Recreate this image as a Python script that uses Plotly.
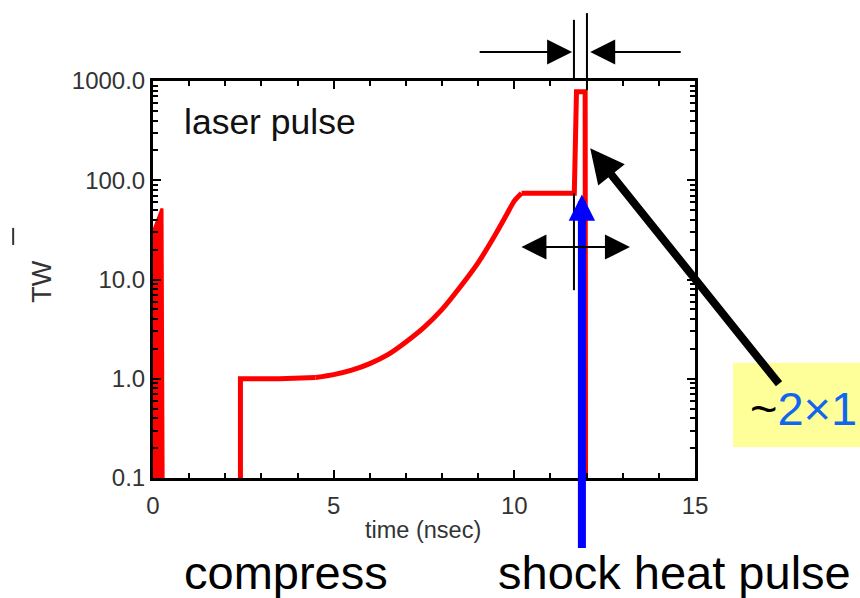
import math
import plotly.graph_objects as go

# ---- data ----
spike_t = [0.0, 0.0, 0.25, 0.28]
spike_p = [0.1, 30, 52, 0.1]

step_t = [2.42, 2.42, 3.5, 4.5]
step_p = [0.1, 1.0, 1.0, 1.03]

ramp_t = [4.5, 5.0, 5.5, 6.0, 6.5, 7.0, 7.5, 8.0, 8.5, 9.0, 9.5, 9.8, 10.0, 10.2]
ramp_p = [1.03, 1.1, 1.22, 1.42, 1.75, 2.35, 3.3, 5.0, 8.4, 14.8, 29.4, 46, 62, 74]

peak_t = [10.2, 11.66, 11.72, 11.96, 11.97]
peak_p = [74, 74, 780, 780, 0.1]

x_ticks = [0, 5, 10, 15]
y_ticks = [0.1, 1, 10, 100, 1000]
y_ticktext = ["0.1", "1.0", "10.0", "100.0", "1000.0"]
y_minor = [m * 10 ** e for e in range(-1, 3) for m in range(2, 10)]

FONT = "Arial, Liberation Sans, sans-serif"
RED = "#FF0000"
L = math.log10

fig = go.Figure()
fig.add_trace(go.Scatter(x=spike_t, y=spike_p, mode="lines", fill="toself",
                         fillcolor=RED, line=dict(color=RED, width=3),
                         hoverinfo="skip", showlegend=False))
fig.add_trace(go.Scatter(x=step_t, y=step_p, mode="lines",
                         line=dict(color=RED, width=5), hoverinfo="skip", showlegend=False))
fig.add_trace(go.Scatter(x=ramp_t, y=ramp_p, mode="lines",
                         line=dict(color=RED, width=5, shape="spline", smoothing=0.7),
                         hoverinfo="skip", showlegend=False))
fig.add_trace(go.Scatter(x=peak_t, y=peak_p, mode="lines",
                         line=dict(color=RED, width=5), hoverinfo="skip", showlegend=False))

fig.update_layout(
    width=860, height=598,
    margin=dict(l=153, r=165, t=81, b=120),
    paper_bgcolor="white", plot_bgcolor="white",
    font=dict(family=FONT, color="#333333"),
    showlegend=False,
)
fig.update_xaxes(
    range=[0, 15], tickvals=x_ticks, ticks="inside", ticklen=8, tickwidth=2,
    tickcolor="black", showline=True, linecolor="black", linewidth=3,
    mirror="allticks", showgrid=False, zeroline=False,
    tickfont=dict(size=24, color="#333333"), ticklabelstandoff=4,
    minor=dict(dtick=1, ticks="inside", ticklen=5, tickwidth=2, tickcolor="black", showgrid=False),
)
fig.update_yaxes(
    type="log", range=[-1, 3], tickvals=y_ticks, ticktext=y_ticktext,
    ticks="inside", ticklen=8, tickwidth=2, tickcolor="black",
    showline=True, linecolor="black", linewidth=3, mirror="allticks",
    showgrid=False, zeroline=False, tickfont=dict(size=24, color="#333333"),
    minor=dict(tickvals=y_minor, ticks="inside", ticklen=5, tickwidth=2, tickcolor="black", showgrid=False),
)

ann = []
# texts
ann.append(dict(text="laser pulse", xref="paper", yref="paper", x=0.053, y=0.897,
                xanchor="left", yanchor="middle", showarrow=False,
                font=dict(size=35.5, color="#111111", family=FONT)))
ann.append(dict(text="time (nsec)", xref="paper", yref="paper", x=0.498, y=-0.131,
                xanchor="center", yanchor="middle", showarrow=False,
                font=dict(size=23.5, color="#333333", family=FONT)))
ann.append(dict(text="TW", xref="paper", yref="paper", x=-0.205, y=0.494,
                xanchor="center", yanchor="middle", showarrow=False, textangle=-90,
                font=dict(size=27, color="#333333", family=FONT)))
ann.append(dict(text="compress", xref="paper", yref="paper", x=0.245, y=-0.237,
                xanchor="center", yanchor="middle", showarrow=False,
                font=dict(size=47, color="black", family=FONT)))
ann.append(dict(text="shock heat pulse", xref="paper", yref="paper", x=0.963, y=-0.237,
                xanchor="center", yanchor="middle", showarrow=False,
                font=dict(size=47, color="black", family=FONT)))
ann.append(dict(text="~<span style='color:#1166EE'>2×1</span>", xref="paper", yref="paper",
                x=1.3026, y=0.176, xanchor="right", yanchor="middle", showarrow=False,
                font=dict(size=47, color="black", family=FONT)))
# arrows
ann.append(dict(text="", x=11.87, y=L(72), xref="x", yref="y", ax=0, ay=355,
                showarrow=True, arrowhead=2, arrowsize=0.66, arrowwidth=8,
                arrowcolor="#0000FF", standoff=0))
ann.append(dict(text="", x=12.1, y=L(210), xref="x", yref="y", ax=190, ay=237,
                showarrow=True, arrowhead=2, arrowsize=0.85, arrowwidth=8,
                arrowcolor="black", standoff=0))
ann.append(dict(text="", x=13.2, y=L(21.2), xref="x", yref="y", ax=-110, ay=0,
                showarrow=True, arrowhead=2, startarrowhead=2, arrowside="end+start",
                arrowsize=2.5, startarrowsize=2.5, arrowwidth=2,
                arrowcolor="black", standoff=0, startstandoff=0))
ann.append(dict(text="", x=11.6, y=1.073, xref="x", yref="paper", ax=-94, ay=0,
                showarrow=True, arrowhead=2, arrowsize=2.5, arrowwidth=2,
                arrowcolor="black", standoff=0))
ann.append(dict(text="", x=12.1, y=1.073, xref="x", yref="paper", ax=92, ay=0,
                showarrow=True, arrowhead=2, arrowsize=2.5, arrowwidth=2,
                arrowcolor="black", standoff=0))
fig.update_layout(annotations=ann)

shapes = []
shapes.append(dict(type="rect", xref="paper", yref="paper", x0=1.07, x1=1.33,
                   y0=0.078, y1=0.29, fillcolor="#FFFF99", line=dict(width=0), layer="below"))
shapes.append(dict(type="line", xref="x", yref="y", x0=11.65, x1=11.65, y0=7.8, y1=74,
                   line=dict(color="black", width=2)))
shapes.append(dict(type="line", xref="x", yref="paper", x0=11.65, x1=11.65, y0=1.0, y1=1.154,
                   line=dict(color="black", width=2)))
shapes.append(dict(type="line", xref="x", yref="paper", x0=12.01, x1=12.01, y0=0.977, y1=1.171,
                   line=dict(color="black", width=2)))
shapes.append(dict(type="line", xref="paper", yref="paper", x0=-0.258, x1=-0.258, y0=0.587, y1=0.63,
                   line=dict(color="#333333", width=2)))
fig.update_layout(shapes=shapes)

fig.write_html("out.html")
